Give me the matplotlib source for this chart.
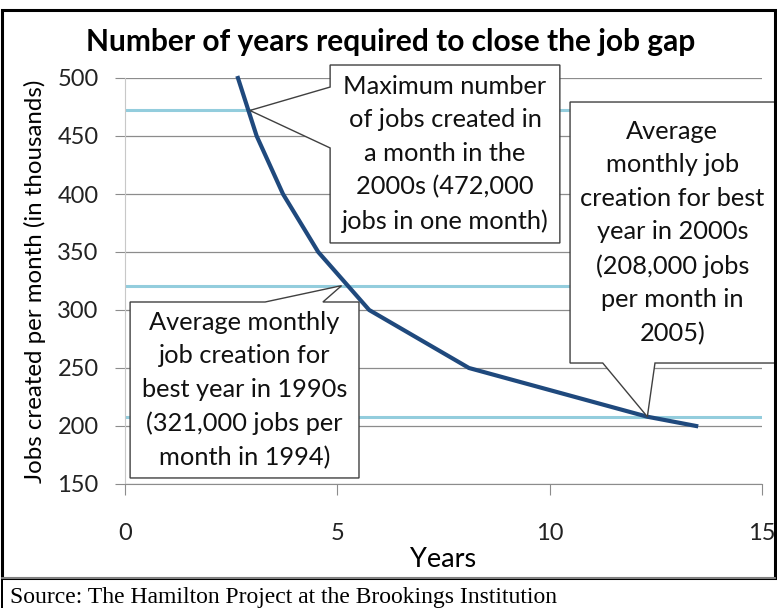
import matplotlib.pyplot as plt
from matplotlib.patches import Polygon, Rectangle

# data
years = [2.66, 3.1, 3.72, 4.55, 5.75, 8.1, 12.3, 13.45]
jobs = [500, 450, 400, 350, 300, 250, 208, 200]
ref_levels = [472, 321, 208]
ref_years = [2.94, 5.1, 12.3]

plt.rcParams['font.family'] = ['Lato', 'DejaVu Sans']

W, H = 777, 608
fig = plt.figure(figsize=(W / 100, H / 100), dpi=100)

# frame around the chart
fig.patches.append(Rectangle((2 / W, 1 - 578 / H), 773 / W, 568 / H, transform=fig.transFigure,
                             fill=False, edgecolor='black', linewidth=2.2))
fig.patches.append(Rectangle((0.5 / W, 0), 2.5 / W, 30 / H, transform=fig.transFigure,
                             facecolor='black', edgecolor='none'))
fig.add_artist(plt.Line2D([2 / W, 775 / W], [1 - 578 / H] * 2, color='#9a9a9a', lw=1.2))

ax = fig.add_axes([125 / W, 1 - 484 / H, 637 / W, 406 / H])
ax.set_xlim(0, 15)
ax.set_ylim(150, 500)
ax.set_yticks(range(150, 501, 50))
ax.set_xticks([0, 5, 10, 15])
ax.grid(axis='y', color='#8c8c8c', linewidth=0.9)
ax.set_axisbelow(True)
for s in ['top', 'right']:
    ax.spines[s].set_visible(False)
ax.spines['left'].set_color('#c8c8c8')
ax.spines['bottom'].set_color('#8c8c8c')
ax.tick_params(axis='y', length=7, color='#8c8c8c', pad=12, labelsize=17, labelcolor='#222222')
ax.tick_params(axis='x', length=8, color='#8c8c8c', pad=20, labelsize=17, labelcolor='#222222')

for lvl in ref_levels:
    ax.axhline(lvl, color='#93cddd', linewidth=2.2, zorder=2)

ax.plot(years, jobs, color='#1f497d', linewidth=3, zorder=4, clip_on=False)

fig.text(391 / W, 1 - 42 / H, 'Number of years required to close the job gap',
         fontsize=21.5, fontweight='bold', ha='center', va='center')
ax.set_xlabel('Years', fontsize=19.5, labelpad=2)
ax.set_ylabel('Jobs created per month (in thousands)', fontsize=17.3, labelpad=8)


def callout(x0, x1, y0, y1, side, w0, w1, tip, text):
    # box with a wedge pointing at tip, in data coordinates
    if side == 'left':
        pts = [(x0, y1), (x0, w0), tip, (x0, w1), (x0, y0), (x1, y0), (x1, y1)]
    elif side == 'top':
        pts = [(x0, y1), (w0, y1), tip, (w1, y1), (x1, y1), (x1, y0), (x0, y0)]
    else:
        pts = [(x0, y1), (x1, y1), (x1, y0), (w1, y0), tip, (w0, y0), (x0, y0)]
    ax.add_patch(Polygon(pts, closed=True, facecolor='white', edgecolor='#404040',
                         linewidth=1, zorder=6, clip_on=False))
    ax.text((x0 + x1) / 2, (y0 + y1) / 2, text, ha='center', va='center', fontsize=18.3,
            linespacing=1.55, color='#111111', zorder=7, clip_on=False)


callout(4.83, 10.24, 357.8, 511.2, 'left', 492.2, 439.7, (ref_years[0], ref_levels[0]),
        'Maximum number\nof jobs created in\na month in the\n2000s (472,000\njobs in one month)')
callout(0.12, 5.51, 155.2, 306.9, 'top', 3.30, 4.66, (ref_years[1], ref_levels[1]),
        'Average monthly\njob creation for\nbest year in 1990s\n(321,000 jobs per\nmonth in 1994)')
callout(10.48, 15.3, 254.3, 479.3, 'bottom', 11.25, 12.48, (ref_years[2], ref_levels[2]),
        'Average\nmonthly job\ncreation for best\nyear in 2000s\n(208,000 jobs\nper month in\n2005)')

fig.text(10 / W, 1 - 597 / H, 'Source: The Hamilton Project at the Brookings Institution',
         family='Liberation Serif', fontsize=17, va='center')

fig.savefig('out.png', dpi=100)
